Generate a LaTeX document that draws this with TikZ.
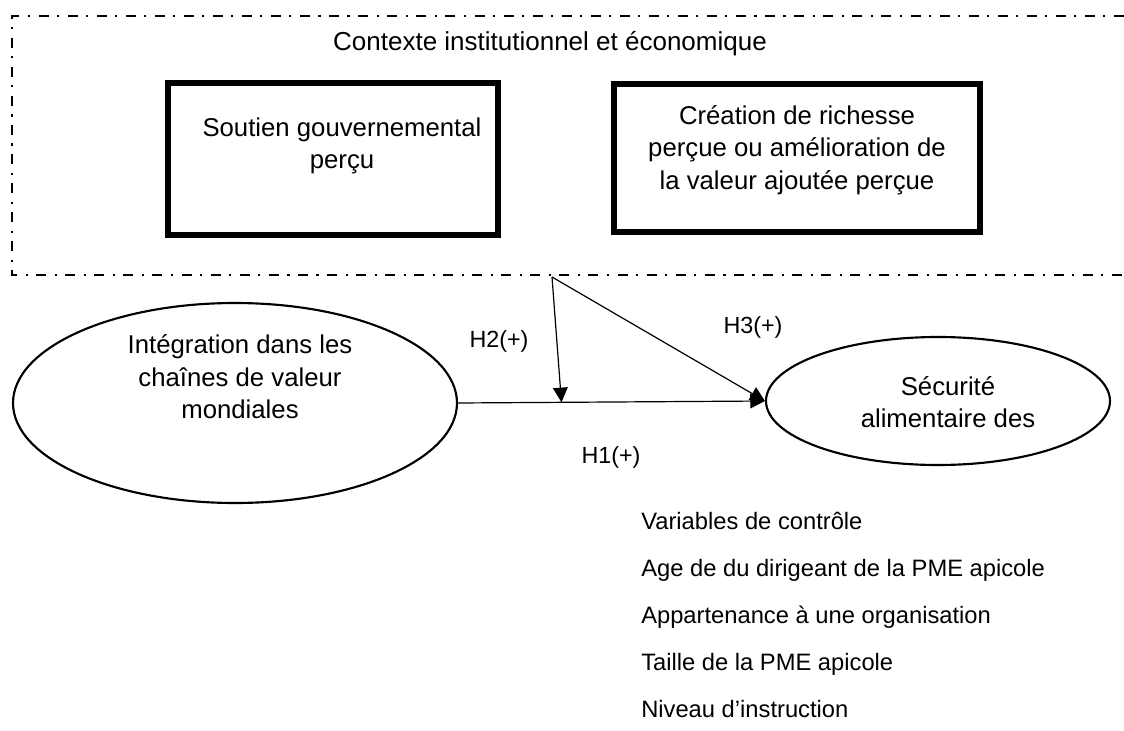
\documentclass[tikz,border=0pt]{standalone}
\usepackage{fontspec}
\setmainfont{Liberation Sans}
\usetikzlibrary{arrows.meta,shapes.geometric,calc}
\tikzset{
  frame/.style={line width=1.5pt, dash pattern=on 7.5pt off 6.5pt on 1.6pt off 6.2pt},
  thickbox/.style={draw, line width=4pt, rectangle},
  boxtext/.style={align=center, font=\fontsize{19.3}{24.4}\selectfont, inner sep=0pt},
  oval/.style={draw, ellipse, line width=1.6pt},
  hyp/.style={font=\fontsize{17.5}{20}\selectfont, inner sep=0pt},
  title/.style={font=\fontsize{19.5}{22}\selectfont, inner sep=0pt},
  ctrl/.style={font=\fontsize{17.8}{20}\selectfont, anchor=base west, inner sep=0pt},
  link/.style={line width=0.9pt, -{Triangle[length=11pt,width=11pt]}}
}
\begin{document}
\begin{tikzpicture}[x=0.75pt,y=-0.75pt]
\useasboundingbox (0,0) rectangle (1124,731);
% institutional frame
\draw[frame] (1124,16) -- (12,16) -- (12,275) -- (1124,275);
\node[title, anchor=base] (ctx) at (550,51) {Contexte institutionnel et économique};
% boxes
\node[thickbox, minimum width=247.5pt, minimum height=114pt] (b1) at (333,159) {};
\node[boxtext] (t1) at (342,146) {Soutien gouvernemental\\perçu};
\node[thickbox, minimum width=274.5pt, minimum height=111pt] (b2) at (797,158) {};
\node[boxtext] (t2) at (797,150) {Création de richesse\\perçue ou amélioration de\\la valeur ajoutée perçue};
% ellipses
\node[oval, minimum width=333pt, minimum height=150pt] (L) at (235,403) {};
\node[boxtext] (tL) at (240,377) {Intégration dans les\\chaînes de valeur\\mondiales};
\node[oval, minimum width=258pt, minimum height=96pt] (R) at (938,401) {};
\node[boxtext] (tR) at (948,402) {Sécurité\\alimentaire des};
% connectors
\coordinate (hub) at (552,277);
\coordinate (mid) at ($(L.east)!0.337!(R.west)$);
\draw[link] (L.east) -- (R.west);
\draw[link] (hub) -- (mid);
\draw[link] (hub) -- (R.west);
% labels
\node[hyp] (h2) at (499,341) {H2(+)};
\node[hyp] (h3) at (753,327) {H3(+)};
\node[hyp] (h1) at (611,457) {H1(+)};
% control variables
\node[ctrl] (c0) at (641,529) {Variables de contrôle};
\node[ctrl] (c1) at (641,576) {Age de du dirigeant de la PME apicole};
\node[ctrl] (c2) at (641,623) {Appartenance à une organisation};
\node[ctrl] (c3) at (641,670) {Taille de la PME apicole};
\node[ctrl] (c4) at (641,717) {Niveau d’instruction};
\end{tikzpicture}
\end{document}
